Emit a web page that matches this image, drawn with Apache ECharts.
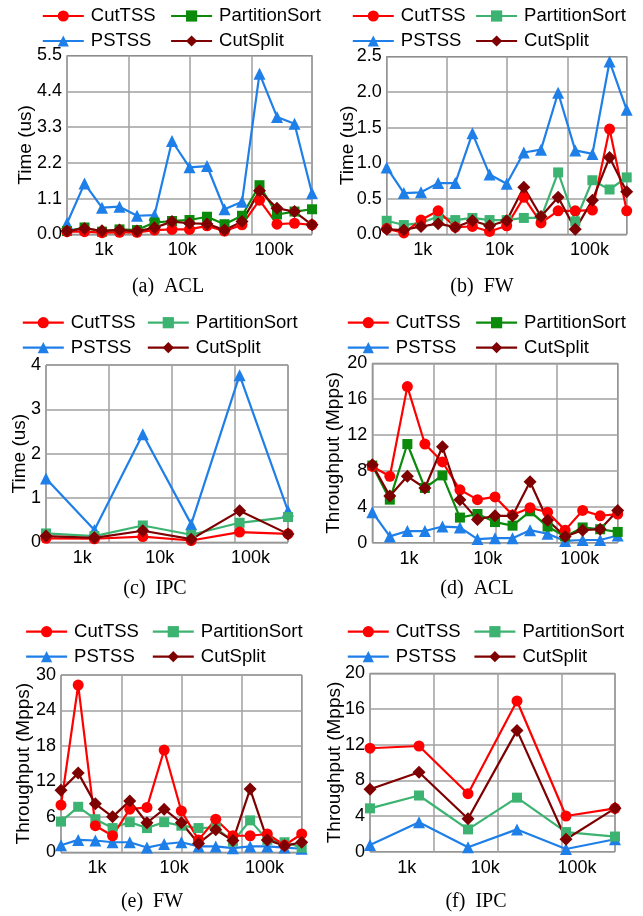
<!DOCTYPE html>
<html>
<head>
<meta charset="utf-8">
<script src="https://cdn.jsdelivr.net/npm/echarts@6/dist/echarts.min.js"></script>
<style>
html, body { margin: 0; padding: 0; background: #fff; }
#main { width: 643px; height: 916px; }
</style>
</head>
<body>
<div id="main"></div>
<script>
// methods and x tick labels
var methods = ['CutTSS', 'PartitionSort', 'PSTSS', 'CutSplit'];
var xTickLabels = ['1k', '10k', '100k'];

// (a) ACL, lookup time (us)
var aclTimeCutTSS        = [0.08, 0.08, 0.05, 0.06, 0.06, 0.13, 0.15, 0.15, 0.26, 0.10, 0.29, 1.05, 0.31, 0.34, 0.29];
var aclTimePartitionSort = [0.10, 0.21, 0.08, 0.15, 0.13, 0.36, 0.41, 0.44, 0.54, 0.31, 0.57, 1.51, 0.61, 0.70, 0.77];
var aclTimePSTSS         = [0.34, 1.56, 0.82, 0.85, 0.57, 0.59, 2.87, 2.06, 2.10, 0.77, 1.00, 4.94, 3.61, 3.40, 1.26];
var aclTimeCutSplit      = [0.10, 0.18, 0.11, 0.13, 0.10, 0.20, 0.39, 0.34, 0.32, 0.13, 0.39, 1.34, 0.80, 0.70, 0.29];

// (b) FW, lookup time (us)
var fwTimeCutTSS        = [0.08, 0.02, 0.20, 0.33, 0.10, 0.11, 0.04, 0.12, 0.52, 0.16, 0.33, 0.33, 0.34, 1.48, 0.33];
var fwTimePartitionSort = [0.19, 0.13, 0.16, 0.25, 0.20, 0.23, 0.20, 0.20, 0.23, 0.23, 0.87, 0.18, 0.76, 0.63, 0.80];
var fwTimePSTSS         = [0.94, 0.58, 0.59, 0.72, 0.72, 1.42, 0.84, 0.71, 1.15, 1.19, 1.99, 1.18, 1.13, 2.43, 1.75];
var fwTimeCutSplit      = [0.07, 0.06, 0.11, 0.15, 0.10, 0.19, 0.12, 0.19, 0.66, 0.25, 0.52, 0.07, 0.48, 1.08, 0.60];

// (c) IPC, lookup time (us)
var ipcTimeCutTSS        = [0.09, 0.08, 0.13, 0.04, 0.23, 0.19];
var ipcTimePartitionSort = [0.20, 0.14, 0.38, 0.17, 0.44, 0.57];
var ipcTimePSTSS         = [1.44, 0.28, 2.44, 0.41, 3.77, 0.71];
var ipcTimeCutSplit      = [0.14, 0.10, 0.26, 0.07, 0.71, 0.19];

// (d) ACL, throughput (Mpps)
var aclThrCutTSS        = [8.5, 7.4, 17.4, 11.0, 9.0, 5.9, 4.8, 5.1, 3.1, 3.9, 3.4, 1.4, 3.6, 3.0, 3.2];
var aclThrPartitionSort = [8.6, 4.8, 11.0, 6.1, 7.5, 2.8, 3.2, 2.3, 1.9, 3.5, 1.8, 0.7, 1.7, 1.5, 1.2];
var aclThrPSTSS         = [3.4, 0.7, 1.3, 1.3, 1.8, 1.7, 0.4, 0.5, 0.5, 1.4, 1.0, 0.2, 0.3, 0.3, 0.8];
var aclThrCutSplit      = [8.7, 5.2, 7.4, 6.1, 10.7, 4.8, 2.6, 3.0, 3.0, 6.8, 2.5, 0.7, 1.4, 1.5, 3.6];

// (e) FW, throughput (Mpps)
var fwThrCutTSS        = [8.0, 28.3, 4.5, 2.8, 7.3, 7.6, 17.3, 7.0, 2.1, 5.6, 2.8, 2.8, 3.1, 1.2, 3.1];
var fwThrPartitionSort = [5.2, 7.7, 5.6, 4.1, 5.1, 4.1, 5.1, 4.5, 4.1, 4.2, 1.8, 5.4, 2.1, 1.7, 0.8];
var fwThrPSTSS         = [1.2, 2.1, 2.0, 1.7, 1.7, 0.8, 1.4, 1.7, 1.0, 1.0, 0.7, 1.0, 1.0, 0.8, 0.6];
var fwThrCutSplit      = [10.5, 13.4, 8.2, 6.0, 8.7, 5.0, 7.3, 5.0, 1.5, 3.8, 2.0, 10.7, 2.1, 1.1, 1.7];

// (f) IPC, throughput (Mpps)
var ipcThrCutTSS        = [11.6, 11.85, 6.5, 16.9, 4.0, 4.86];
var ipcThrPartitionSort = [4.86, 6.3, 2.5, 6.06, 2.2, 1.7];
var ipcThrPSTSS         = [0.75, 3.3, 0.5, 2.5, 0.3, 1.4];
var ipcThrCutSplit      = [7.0, 8.9, 3.7, 13.6, 1.4, 4.86];

var SANS = 'Liberation Sans';
var SERIF = 'Liberation Serif';
var DARK_GREEN = '#0b8a0b';
var SEA_GREEN = '#3cb371';

// panel layout
var panels = [
    {values: [aclTimeCutTSS, aclTimePartitionSort, aclTimePSTSS, aclTimeCutSplit],
     grid: {left: 67, top: 55.5, width: 245, height: 178.8}, max: 5.5, interval: 1.1, digits: 1,
     yName: 'Time (us)', nameGap: 32, caption: '(a)  ACL', cx: 168, cy: 287,
     legendX: [41.7, 170], legendY: 15, psColor: DARK_GREEN},
    {values: [fwTimeCutTSS, fwTimePartitionSort, fwTimePSTSS, fwTimeCutSplit],
     grid: {left: 386.7, top: 56.5, width: 240, height: 177.8}, max: 2.5, interval: 0.5, digits: 1,
     yName: 'Time (us)', nameGap: 29, caption: '(b)  FW', cx: 482, cy: 287,
     legendX: [351.7, 475], legendY: 15, psColor: SEA_GREEN},
    {values: [ipcTimeCutTSS, ipcTimePartitionSort, ipcTimePSTSS, ipcTimeCutSplit],
     grid: {left: 46, top: 365, width: 242, height: 177.3}, max: 4, interval: 1, digits: 0,
     yName: 'Time (us)', nameGap: 16.5, caption: '(c)  IPC', cx: 155, cy: 589,
     legendX: [21.7, 146.7], legendY: 321.7, psColor: SEA_GREEN},
    {values: [aclThrCutTSS, aclThrPartitionSort, aclThrPSTSS, aclThrCutSplit],
     grid: {left: 372.3, top: 363.3, width: 245.4, height: 179.4}, max: 20, interval: 4, digits: 0,
     yName: 'Throughput (Mpps)', nameGap: 29.5, caption: '(d)  ACL', cx: 477, cy: 589,
     legendX: [346.7, 475], legendY: 321.7, psColor: DARK_GREEN},
    {values: [fwThrCutTSS, fwThrPartitionSort, fwThrPSTSS, fwThrCutSplit],
     grid: {left: 61, top: 675, width: 240.7, height: 177.3}, max: 30, interval: 6, digits: 0,
     yName: 'Throughput (Mpps)', nameGap: 28, caption: '(e)  FW', cx: 152, cy: 902,
     legendX: [25, 151.7], legendY: 630.7, psColor: SEA_GREEN},
    {values: [ipcThrCutTSS, ipcThrPartitionSort, ipcThrPSTSS, ipcThrCutSplit],
     grid: {left: 370, top: 673.3, width: 245, height: 178.4}, max: 20, interval: 4, digits: 0,
     yName: 'Throughput (Mpps)', nameGap: 25.5, caption: '(f)  IPC', cx: 476, cy: 902,
     legendX: [346.7, 473.3], legendY: 630.7, psColor: SEA_GREEN}
];

var style = {
    CutTSS:        {color: '#ff0000', symbol: 'circle',   size: 11},
    PartitionSort: {color: null,      symbol: 'rect',     size: 10},
    PSTSS:         {color: '#1f7fe8', symbol: 'triangle', size: 12},
    CutSplit:      {color: '#7f0000', symbol: 'diamond',  size: 13}
};
var drawOrder = ['PSTSS', 'PartitionSort', 'CutTSS', 'CutSplit'];
var labelSlots = [30, 94, 169]; // label positions out of 200 across the plot width

var option = {
    animation: false,
    backgroundColor: '#fff',
    grid: [], xAxis: [], yAxis: [], series: [], legend: [], graphic: []
};

panels.forEach(function (p, pi) {
    var n = p.values[0].length;
    // grid lines sit at fixed fractions of the plot width
    var g0 = n > 10 ? 0.178 : 0.061;
    var gs = n > 10 ? 0.251 : 0.26;

    option.grid.push({
        left: p.grid.left, top: p.grid.top, width: p.grid.width, height: p.grid.height,
        show: true, borderColor: '#555', borderWidth: 1, outerBoundsMode: 'none'
    });

    // data axis (point index)
    option.xAxis.push({type: 'value', gridIndex: pi, min: 0, max: n - 1, show: false});
    // vertical grid-line axis
    option.xAxis.push({
        type: 'value', gridIndex: pi, position: 'bottom',
        min: 1 - g0 / gs, max: 1 + (1 - g0) / gs, interval: 1,
        axisLine: {show: false}, axisTick: {show: false}, axisLabel: {show: false},
        splitLine: {show: true, lineStyle: {color: '#a0a0a0', width: 1.5}}
    });
    // tick label axis
    option.xAxis.push({
        type: 'value', gridIndex: pi, position: 'bottom', min: 0, max: 200, interval: 1,
        axisLine: {show: false}, axisTick: {show: false}, splitLine: {show: false},
        axisLabel: {
            margin: 7, fontSize: 18, fontFamily: SANS, color: '#000',
            showMinLabel: true, showMaxLabel: true,
            formatter: function (v) {
                var k = labelSlots.indexOf(Math.round(v));
                return (k >= 0 && Math.abs(v - Math.round(v)) < 1e-6) ? xTickLabels[k] : '';
            }
        }
    });

    option.yAxis.push({
        type: 'value', gridIndex: pi, min: 0, max: p.max, interval: p.interval,
        name: p.yName, nameLocation: 'middle', nameGap: p.nameGap, nameMoveOverlap: false,
        nameTextStyle: {fontSize: 19, fontFamily: SANS, color: '#000'},
        axisLine: {show: false}, axisTick: {show: false},
        axisLabel: {
            margin: 5, fontSize: 18, fontFamily: SANS, color: '#000',
            formatter: function (v) { return v.toFixed(p.digits); }
        },
        splitLine: {show: true, lineStyle: {color: '#a0a0a0', width: 1.5}}
    });

    drawOrder.forEach(function (name) {
        var s = style[name];
        var color = name === 'PartitionSort' ? p.psColor : s.color;
        var vals = p.values[methods.indexOf(name)];
        option.series.push({
            name: name, type: 'line', xAxisIndex: pi * 3, yAxisIndex: pi,
            data: vals.map(function (v, i) { return [i, v]; }),
            symbol: s.symbol, symbolSize: s.size, showAllSymbol: true,
            itemStyle: {color: color}, lineStyle: {color: color, width: 2.2}
        });
    });

    [['CutTSS', 'PSTSS'], ['PartitionSort', 'CutSplit']].forEach(function (col, ci) {
        option.legend.push({
            orient: 'vertical', left: p.legendX[ci], top: p.legendY - 8.5, padding: 0,
            itemWidth: 41, itemHeight: 14, itemGap: 6, selectedMode: false,
            textStyle: {fontSize: 18.5, fontFamily: SANS, color: '#000', lineHeight: 14, padding: [0, 0, 0, 2]},
            data: col.map(function (name) {
                var c = name === 'PartitionSort' ? p.psColor : style[name].color;
                return {name: name, itemStyle: {color: c}, lineStyle: {color: c, width: 2.2}};
            })
        });
    });

    option.graphic.push({
        type: 'text', x: p.cx, y: p.cy,
        style: {text: p.caption, fill: '#000', fontSize: 20, fontFamily: SERIF,
                align: 'center', verticalAlign: 'middle', textAlign: 'center', textVerticalAlign: 'middle'}
    });
});

var chart = echarts.init(document.getElementById('main'));
chart.setOption(option);
</script>
</body>
</html>
